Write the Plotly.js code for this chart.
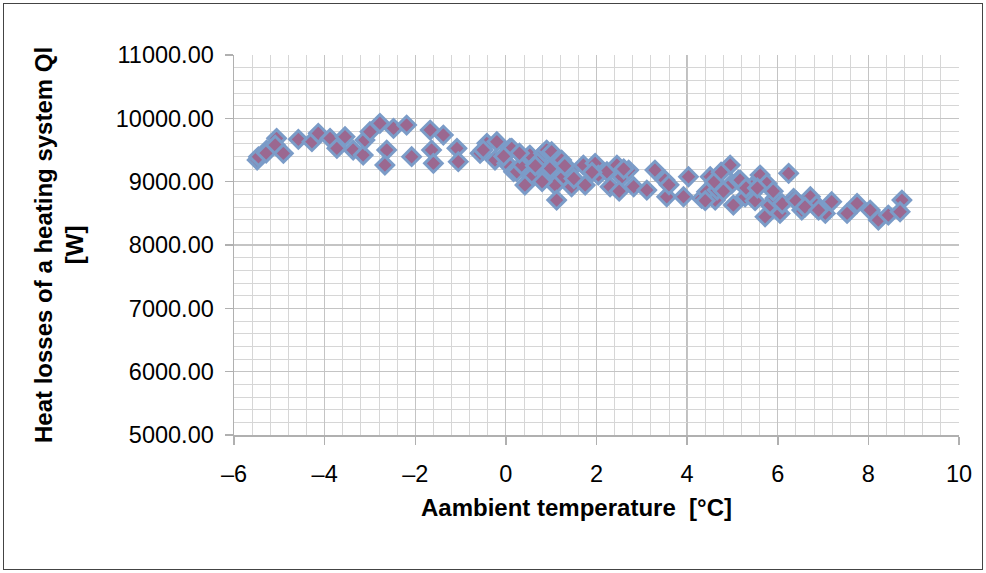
<!DOCTYPE html>
<html>
<head>
<meta charset="utf-8">
<script src="https://cdn.plot.ly/plotly-3.0.1.min.js"></script>
<style>
html,body{margin:0;padding:0;background:#fff;}
#wrap{position:relative;width:986px;height:573px;}
#plot{position:absolute;left:0;top:0;width:986px;height:573px;}
#frame{position:absolute;left:3px;top:3px;width:978px;height:565px;border:1.5px solid #444;pointer-events:none;}
</style>
</head>
<body>
<div id="wrap"><div id="plot"></div><div id="frame"></div></div>
<script>
// Ambient temperature [°C]
const tempC = [
 -5.49,-5.46,-5.28,-5.29,-5.06,-5.09,-4.91,-4.58,-4.28,-4.14,-3.88,-3.73,-3.55,-3.37,-3.15,-3.11,-3.0,
 -2.78,-2.63,-2.67,-2.48,-2.19,-2.08,-1.67,-1.64,-1.60,-1.38,-1.08,-1.05,-0.57,-0.42,-0.50,-0.24,-0.20,
 0.09,0.02,0.13,0.17,0.24,0.35,0.50,0.53,0.57,0.57,0.42,0.83,0.90,0.94,1.01,0.98,1.05,1.09,1.12,1.16,
 1.23,1.27,1.42,1.45,1.71,1.75,1.97,2.04,2.23,2.30,2.45,2.56,2.71,2.82,3.11,3.29,3.51,3.55,3.92,4.03,
 4.32,4.43,4.51,4.62,4.66,4.95,4.99,5.02,5.13,5.17,5.28,5.43,5.61,5.76,5.72,5.83,5.94,6.05,6.24,6.35,
 6.53,6.72,6.86,7.05,7.19,7.53,7.75,8.04,8.22,8.44,8.74,8.70,
 0.30,0.70,1.30,1.50,0.80,1.90,2.60,2.50,3.60,-0.05,0.65,
 4.40,4.60,4.80,5.30,5.50,5.90,6.10,6.40,6.60,6.90,4.75,5.55
];
// Heat losses of a heating system Ql [W]
const heatLossW = [
 9341,9393,9499,9452,9684,9578,9447,9668,9631,9763,9684,9526,9710,9499,9420,9657,9789,
 9921,9499,9262,9842,9894,9394,9815,9499,9289,9736,9526,9315,9447,9605,9499,9341,9631,
 9526,9289,9526,9157,9157,9262,9394,9420,9131,9078,8946,9447,9499,9183,9473,9210,8973,8946,8709,9341,
 9341,9078,9183,8920,9262,8946,9289,9104,9157,8920,9262,9078,9183,8920,8867,9183,9025,8762,8762,9078,
 8736,8841,9078,8709,8867,9262,8973,8630,9025,9025,8762,8920,9104,8973,8446,8630,8740,8499,9131,8736,
 8551,8762,8630,8499,8683,8499,8657,8551,8393,8472,8709,8525,
 9450,9300,9250,9050,9000,9150,9200,8850,8950,9400,9250,
 8700,9000,8850,8900,8700,8850,8650,8700,8600,8550,9150,8900
];
const xTickVals = [-6,-4,-2,0,2,4,6,8,10];
const xTickText = ['–6','–4','–2','0','2','4','6','8','10'];
const yTickVals = [5000,6000,7000,8000,9000,10000,11000];

const font = 'Liberation Sans, Arial, sans-serif';
const trace = {
  x: tempC, y: heatLossW, type: 'scatter', mode: 'markers',
  marker: {symbol: 'diamond', size: 13.5, color: '#9b6890', line: {color: '#7b9cc8', width: 3}},
  hoverinfo: 'skip'
};
const layout = {
  width: 986, height: 573,
  margin: {l: 234, r: 27, t: 55, b: 138},
  paper_bgcolor: '#fff', plot_bgcolor: '#fff',
  showlegend: false,
  font: {family: font, color: '#000'},
  xaxis: {
    range: [-6, 10], tickvals: xTickVals, ticktext: xTickText,
    showgrid: true, gridcolor: '#c4c4c4', gridwidth: 1.2,
    minor: {dtick: 0.4, showgrid: true, gridcolor: '#d6d6d6', gridwidth: 1},
    zeroline: false, showline: true, linecolor: '#b0b0b0', linewidth: 1.5,
    ticks: 'outside', ticklen: 8, tickcolor: '#b0b0b0', tickwidth: 1.5,
    ticklabelstandoff: 9,
    tickfont: {size: 23.5, family: font, color: '#000'}
  },
  yaxis: {
    range: [5000, 11000], tickvals: yTickVals, tickformat: '.2f',
    showgrid: true, gridcolor: '#c4c4c4', gridwidth: 1.2,
    minor: {dtick: 200, showgrid: true, gridcolor: '#d6d6d6', gridwidth: 1},
    zeroline: false, showline: true, linecolor: '#b0b0b0', linewidth: 1.5,
    ticks: 'outside', ticklen: 8, tickcolor: '#b0b0b0', tickwidth: 1.5,
    ticklabelstandoff: 6,
    tickfont: {size: 23.5, family: font, color: '#000'}
  },
  shapes: [
    {type: 'line', xref: 'x', yref: 'paper', x0: 4, x1: 4, y0: 0, y1: 1, line: {color: '#9a9a9a', width: 1.5}, layer: 'below'}
  ],
  annotations: [
    {text: '<b>Heat losses of a heating system Ql<br>[W]</b>', xref: 'paper', yref: 'paper',
     x: (59 - 234) / 725, y: 0.5, xanchor: 'center', yanchor: 'middle', textangle: -90, showarrow: false,
     font: {size: 24, family: font, color: '#000'}},
    {text: '<b>Aambient temperature  [°C]</b>', xref: 'paper', yref: 'paper',
     x: 0.473, y: -0.1895, xanchor: 'center', yanchor: 'middle', showarrow: false,
     font: {size: 24, family: font, color: '#000'}}
  ]
};
Plotly.newPlot('plot', [trace], layout, {displayModeBar: false, staticPlot: true});
</script>
</body>
</html>
